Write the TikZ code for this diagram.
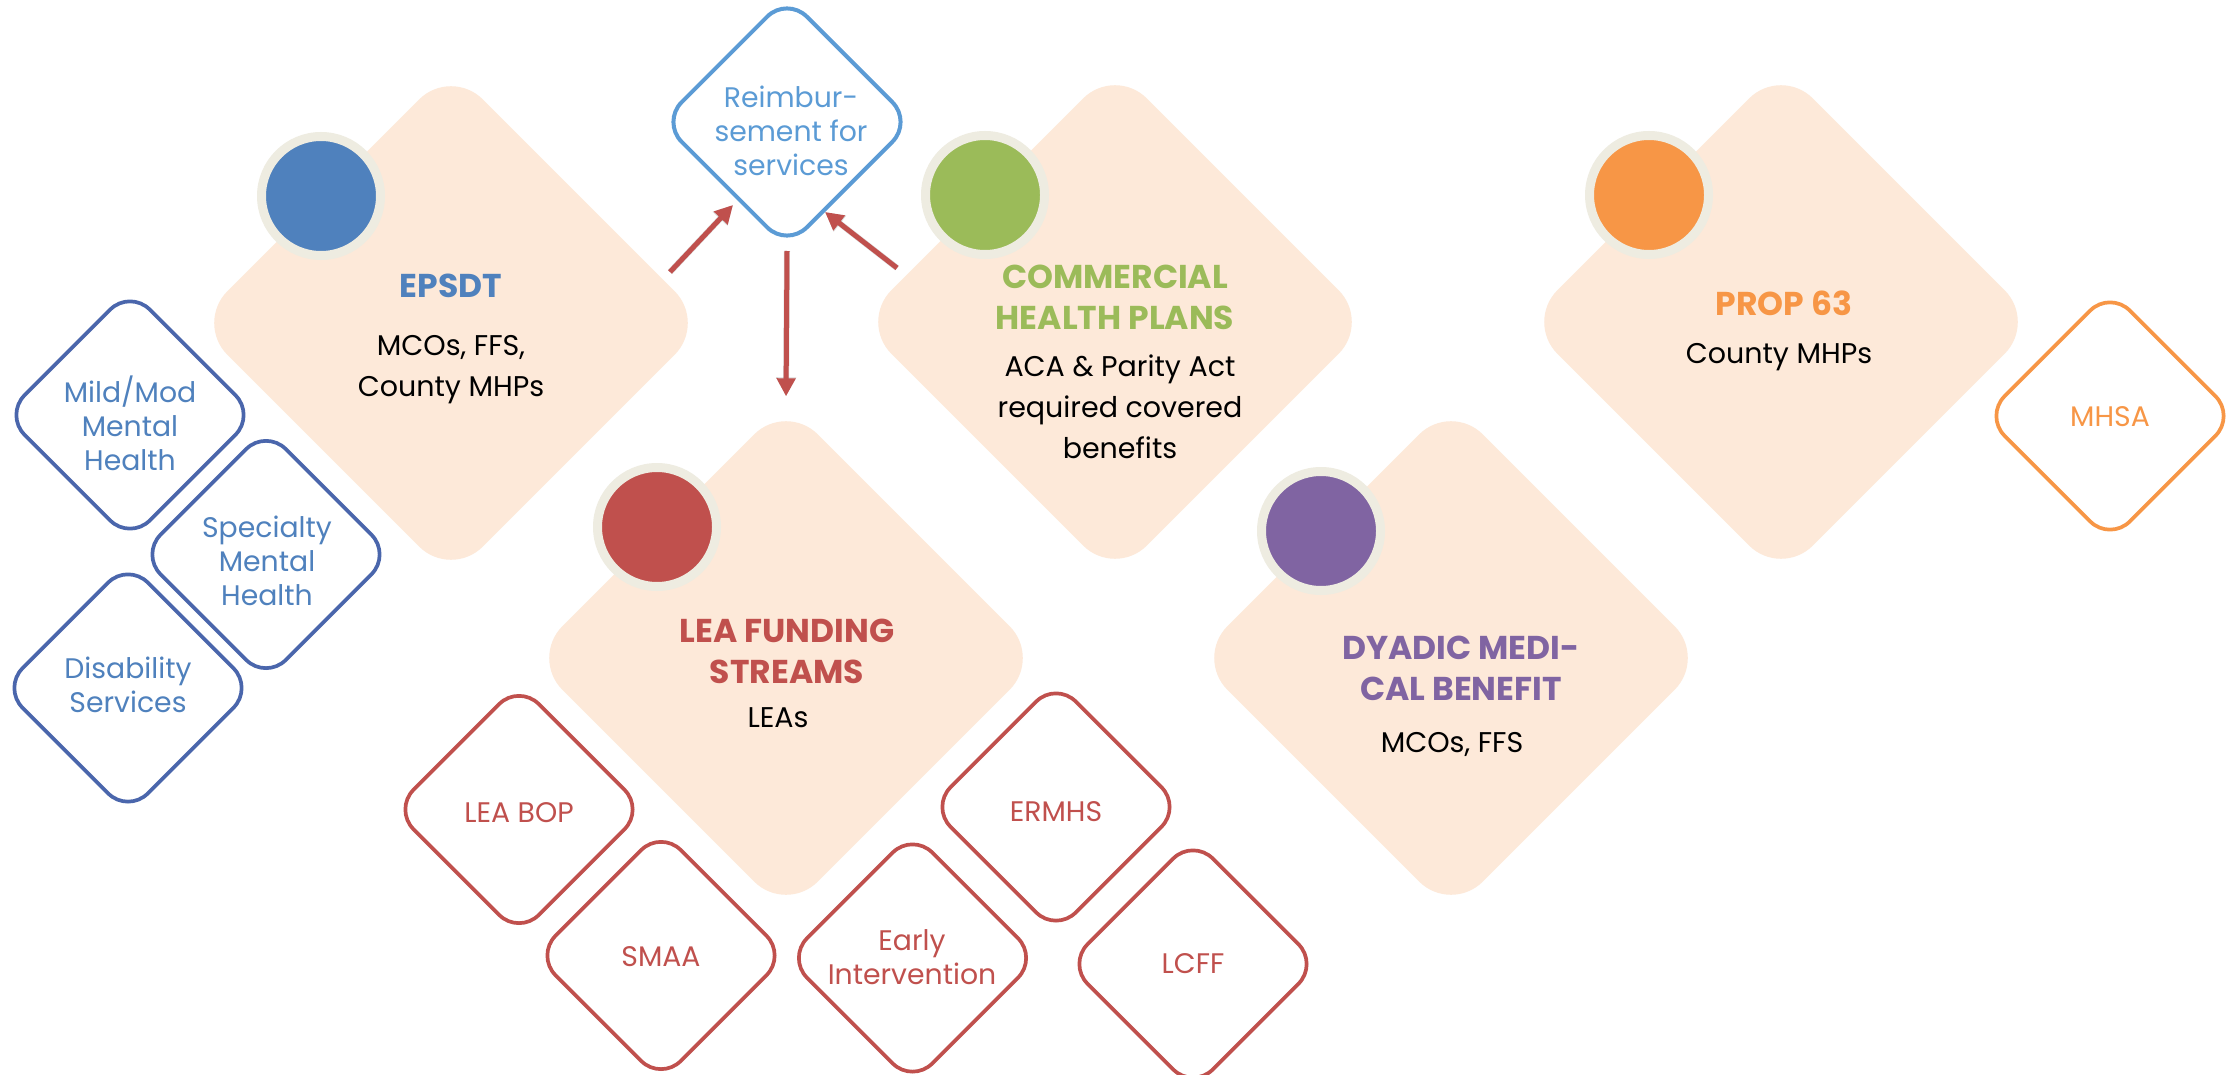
\documentclass[tikz,border=0pt]{standalone}
\usepackage{fontspec}
\setmainfont{Poppins}
\usetikzlibrary{shapes.geometric,arrows.meta}

\definecolor{peach}{HTML}{FDE9D9}
\definecolor{ring}{HTML}{EEECE1}
\definecolor{cblue}{HTML}{4F81BD}
\definecolor{cgreen}{HTML}{9BBB59}
\definecolor{cred}{HTML}{C0504D}
\definecolor{cpurple}{HTML}{8064A2}
\definecolor{corange}{HTML}{F79646}
\definecolor{sky}{HTML}{5B9BD5}
\definecolor{navy}{HTML}{4A66AC}

\tikzset{
  bigdia/.style={diamond, fill=peach, minimum size=511pt, inner sep=0pt, rounded corners=45pt},
  dot/.style={circle, fill=#1, draw=ring, line width=9pt, minimum size=119pt, inner sep=0pt},
  smalldia/.style={diamond, draw=#1, fill=white, line width=3.7pt, minimum size=252pt, inner sep=0pt, rounded corners=28pt},
  ttl/.style={font=\bfseries\fontsize{33}{41}\selectfont, text=#1, align=center, inner sep=0pt},
  bodytext/.style={font=\fontsize{28.5}{41}\selectfont, text=black, align=center, inner sep=0pt},
  smalltext/.style={font=\fontsize{28.3}{34}\selectfont, text=#1, align=center, inner sep=0pt},
  arr/.style={draw=cred, line width=5pt, -{Triangle[length=18pt,width=18pt]}},
  arrshadow/.style={draw=black, opacity=0.15, line width=6pt, -{Triangle[length=19pt,width=19pt]}, xshift=2pt, yshift=-3pt},
}

\begin{document}
\begin{tikzpicture}[x=1pt,y=-1pt]
\useasboundingbox (0,0) rectangle (2234,1075);
\clip (0,0) rectangle (2234,1075);
\fill[white] (0,0) rectangle (2234,1075);

% funding source tiles
\node[bigdia] (epsdt) at (451,323) {};
\node[bigdia] (lea)   at (786,658) {};
\node[bigdia] (comm)  at (1115,322) {};
\node[bigdia] (dyad)  at (1451,658) {};
\node[bigdia] (prop)  at (1781,322) {};

% colour markers
\node[dot=cblue]   (epsdt-dot) at (321,196) {};
\node[dot=cred]    (lea-dot)   at (657,527) {};
\node[dot=cgreen]  (comm-dot)  at (985,195) {};
\node[dot=cpurple] (dyad-dot)  at (1321,531) {};
\node[dot=corange] (prop-dot)  at (1649,195) {};

% tile headings and payers
\node[ttl=cblue] (epsdt-title) at (451,285.5) {EPSDT};
\node[bodytext] (epsdt-body) at (451,369.5) {MCOs, FFS,\\County MHPs};

\node[ttl=cgreen] (comm-title) at (1115,297.5) {COMMERCIAL\\HEALTH PLANS};
\node[bodytext] (comm-body) at (1120,406.5) {ACA \& Parity Act\\required covered\\benefits};

\node[ttl=cred] (lea-title) at (787,651) {LEA FUNDING\\STREAMS};
\node[bodytext] (lea-body) at (778,718) {LEAs};

\node[ttl=cpurple] (dyad-title) at (1461,668) {DYADIC MEDI-\\CAL BENEFIT};
\node[bodytext] (dyad-body) at (1452,744.5) {MCOs, FFS};

\node[ttl=corange] (prop-title) at (1784,303.5) {PROP 63};
\node[bodytext] (prop-body) at (1779,357.5) {County MHPs};

% reimbursement hub
\node[smalldia=sky, line width=4pt] (reimb) at (787,122) {};
\node[smalltext=sky] (reimb-text) at (791,131) {Reimbur-\\sement for\\services};

% EPSDT service lines
\node[smalldia=navy] (mild) at (130,415) {};
\node[smalltext=cblue] (mild-text) at (130,423.5) {Mild/Mod\\Mental\\Health};
\node[smalldia=navy] (spec) at (266,554.5) {};
\node[smalltext=cblue] (spec-text) at (267,561) {Specialty\\Mental\\Health};
\node[smalldia=navy] (disab) at (128,688) {};
\node[smalltext=cblue] (disab-text) at (128,685) {Disability\\Services};

% LEA funding streams
\node[smalldia=cred] (leabop) at (519,809.5) {};
\node[smalltext=cred] (leabop-text) at (519,813) {LEA BOP};
\node[smalldia=cred] (smaa) at (661,955.5) {};
\node[smalltext=cred] (smaa-text) at (661,957) {SMAA};
\node[smalldia=cred] (early) at (912.5,958) {};
\node[smalltext=cred] (early-text) at (912,957) {Early\\Intervention};
\node[smalldia=cred] (ermhs) at (1056,807) {};
\node[smalltext=cred] (ermhs-text) at (1056,812) {ERMHS};
\node[smalldia=cred] (lcff) at (1193,964) {};
\node[smalltext=cred] (lcff-text) at (1193,964) {LCFF};

% Prop 63 stream
\node[smalldia=corange] (mhsa) at (2110,416) {};
\node[smalltext=corange] (mhsa-text) at (2110,417) {MHSA};

% flow of reimbursement
\path (epsdt.center) ++(219,-51) coordinate (epsdt-out);
\path (reimb.center) ++(-54,83) coordinate (reimb-in-l);
\path (comm.center) ++(-218,-54) coordinate (comm-out);
\path (reimb.center) ++(38,90) coordinate (reimb-in-r);

\draw[arrshadow] (epsdt-out) -- (reimb-in-l);
\draw[arrshadow] (comm-out) -- (reimb-in-r);
\draw[arrshadow, shorten <=1pt, shorten >=6pt] (reimb.south) -- (lea.north);

\draw[arr] (epsdt-out) -- (reimb-in-l);
\draw[arr] (comm-out) -- (reimb-in-r);
\draw[arr, shorten <=1pt, shorten >=6pt] (reimb.south) -- (lea.north);
\end{tikzpicture}
\end{document}
